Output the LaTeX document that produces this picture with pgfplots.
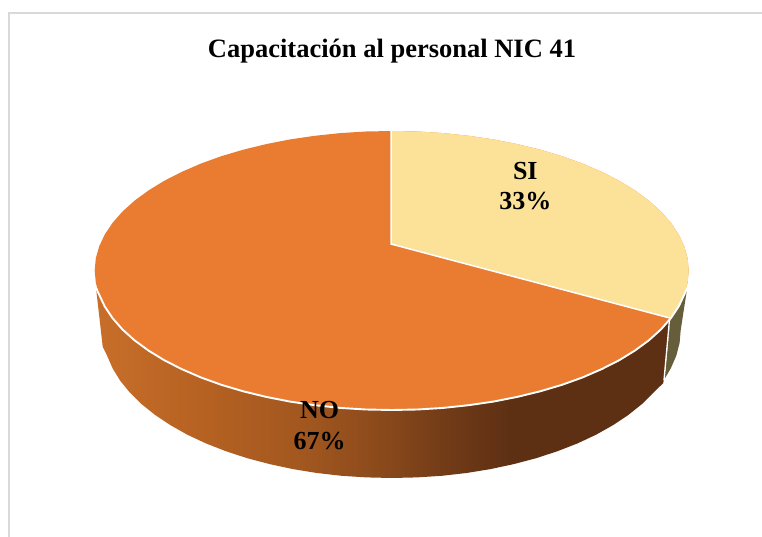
\documentclass[border=0pt]{standalone}
\usepackage{fontspec}
\setmainfont{Liberation Serif}
\usepackage{pgfplots}
\pgfplotsset{compat=1.18}
\definecolor{frameg}{HTML}{D9D9D9}
\definecolor{noTop}{HTML}{EA7C32}
\definecolor{siTop}{HTML}{FBE298}
\definecolor{siSide}{HTML}{665E3B}
\definecolor{w1}{HTML}{C86E2A}
\definecolor{w2}{HTML}{B66222}
\definecolor{w3}{HTML}{A2571F}
\definecolor{w4}{HTML}{8A491B}
\definecolor{w5}{HTML}{6F3A17}
\definecolor{w6}{HTML}{5E3013}
% 25bp..75bp of the shading spans the bounding box of the wall (x 96..671)
\pgfdeclarehorizontalshading{wallshade}{100bp}{
  color(0bp)=(w1); color(25bp)=(w1); color(34bp)=(w2); color(43bp)=(w3);
  color(50bp)=(w4); color(56bp)=(w5); color(61bp)=(w6); color(100bp)=(w6)}
\begin{document}
\begin{tikzpicture}
\useasboundingbox (0,0) rectangle (762pt,537pt);
\begin{axis}[
    at={(0,0)}, anchor=south west,
    scale only axis, width=762pt, height=537pt,
    xmin=0, xmax=762, ymin=0, ymax=537, y dir=reverse,
    hide axis, clip=false,
  ]
  % chart frame
  \addplot[frameg, line width=1.8pt, mark=none] coordinates {(9,537) (9,13) (762,13)};

  % side wall NO
  \addplot[draw=none, shading=wallshade, mark=none] coordinates {
    (670.5,318.2) (660.9,329.5) (648.9,340.3) (635.0,350.5) (619.2,360.2) (601.7,369.1)
    (582.6,377.4) (562.1,384.8) (540.2,391.3) (517.2,396.9) (493.3,401.6) (468.6,405.2)
    (443.3,407.9) (417.6,409.5) (391.7,410.0) (365.8,409.5) (340.1,407.9) (314.8,405.2)
    (290.1,401.6) (266.2,396.9) (243.2,391.3) (221.3,384.8) (200.8,377.4) (181.7,369.1)
    (164.2,360.2) (148.4,350.5) (134.5,340.3) (122.5,329.5) (112.6,318.2) (104.8,306.6)
    (99.2,294.7) (96.0,288.0)
    (102.7,346.7) (107.1,355.7) (112.6,368.3) (120.1,380.6) (129.8,392.5) (141.4,404.0)
    (155.0,414.9) (170.3,425.1) (187.3,434.7) (205.9,443.4) (225.9,451.2) (247.2,458.2)
    (269.6,464.1) (292.9,469.1) (316.9,473.0) (341.5,475.8) (366.5,477.4) (391.7,478.0)
    (416.9,477.4) (441.9,475.8) (466.5,473.0) (490.5,469.1) (513.8,464.1) (536.2,458.2)
    (557.5,451.2) (577.5,443.4) (596.1,434.7) (613.1,425.1) (628.4,414.9) (642.0,404.0)
    (653.6,392.5) (663.3,383.0)
  } -- cycle;

  % side wall SI
  \addplot[draw=none, fill=siSide, mark=none] coordinates {
    (670.5,318.2) (678.6,306.6) (684.2,294.7) (687.2,288.0)
    (680.7,330.0) (679.6,342.9) (676.3,355.7) (670.8,368.3) (664.5,379.0)
  } -- cycle;
  \addplot[white, line width=1.3pt, mark=none] coordinates {(669.6,318.2) (664.0,380.0)};

  % top face NO (whole ellipse, SI is laid over it)
  \addplot[draw=none, fill=noTop, mark=none] coordinates {
    (391.7,131.0) (417.6,131.5) (443.3,133.1) (468.6,135.8) (493.3,139.4) (517.2,144.1)
    (540.2,149.7) (562.1,156.2) (582.6,163.6) (601.7,171.9) (619.2,180.8) (635.0,190.5)
    (648.9,200.7) (660.9,211.5) (670.8,222.8) (678.6,234.4) (684.2,246.3) (687.6,258.3)
    (688.7,270.5) (687.6,282.7) (684.2,294.7) (678.6,306.6) (670.8,318.2) (660.9,329.5)
    (648.9,340.3) (635.0,350.5) (619.2,360.2) (601.7,369.1) (582.6,377.4) (562.1,384.8)
    (540.2,391.3) (517.2,396.9) (493.3,401.6) (468.6,405.2) (443.3,407.9) (417.6,409.5)
    (391.7,410.0) (365.8,409.5) (340.1,407.9) (314.8,405.2) (290.1,401.6) (266.2,396.9)
    (243.2,391.3) (221.3,384.8) (200.8,377.4) (181.7,369.1) (164.2,360.2) (148.4,350.5)
    (134.5,340.3) (122.5,329.5) (112.6,318.2) (104.8,306.6) (99.2,294.7) (95.8,282.7)
    (94.7,270.5) (95.8,258.3) (99.2,246.3) (104.8,234.4) (112.6,222.8) (122.5,211.5)
    (134.5,200.7) (148.4,190.5) (164.2,180.8) (181.7,171.9) (200.8,163.6) (221.3,156.2)
    (243.2,149.7) (266.2,144.1) (290.1,139.4) (314.8,135.8) (340.1,133.1) (365.8,131.5)
  } -- cycle;

  % top face SI
  \addplot[draw=none, fill=siTop, mark=none] coordinates {
    (391.0,244.0) (391.0,131.0) (417.6,131.5) (443.3,133.1) (468.6,135.8) (493.3,139.4)
    (517.2,144.1) (540.2,149.7) (562.1,156.2) (582.6,163.6) (601.7,171.9) (619.2,180.8)
    (635.0,190.5) (648.9,200.7) (660.9,211.5) (670.8,222.8) (678.6,234.4) (684.2,246.3)
    (687.6,258.3) (688.7,270.5) (687.6,282.7) (684.2,294.7) (678.6,306.6) (670.5,318.2)
  } -- cycle;

  % white slice borders: front rim and the two cuts
  \addplot[white, line width=1.9pt, mark=none, line join=round] coordinates {
    (687.2,288.0) (684.2,294.7) (678.6,306.6) (670.8,318.2) (660.9,329.5)
    (648.9,340.3) (635.0,350.5) (619.2,360.2) (601.7,369.1) (582.6,377.4) (562.1,384.8)
    (540.2,391.3) (517.2,396.9) (493.3,401.6) (468.6,405.2) (443.3,407.9) (417.6,409.5)
    (391.7,410.0) (365.8,409.5) (340.1,407.9) (314.8,405.2) (290.1,401.6) (266.2,396.9)
    (243.2,391.3) (221.3,384.8) (200.8,377.4) (181.7,369.1) (164.2,360.2) (148.4,350.5)
    (134.5,340.3) (122.5,329.5) (112.6,318.2) (104.8,306.6) (99.2,294.7) (96.0,288.0)
  };
  \addplot[white, line width=1.5pt, mark=none, line join=miter] coordinates {
    (391.0,131.0) (391.0,244.0) (670.5,318.2)
  };

  \node[anchor=base, font=\fontsize{26.5}{30}\selectfont\bfseries] at (axis cs:392,58) {Capacitación al personal NIC 41};
  \node[anchor=base, font=\fontsize{26}{30}\selectfont\bfseries] at (axis cs:525.3,180) {SI};
  \node[anchor=base, font=\fontsize{26}{30}\selectfont\bfseries] at (axis cs:525.3,210) {33\%};
  \node[anchor=base, font=\fontsize{26}{30}\selectfont\bfseries] at (axis cs:319.5,418.7) {NO};
  \node[anchor=base, font=\fontsize{26}{30}\selectfont\bfseries] at (axis cs:319.5,449) {67\%};
\end{axis}
\end{tikzpicture}
\end{document}
